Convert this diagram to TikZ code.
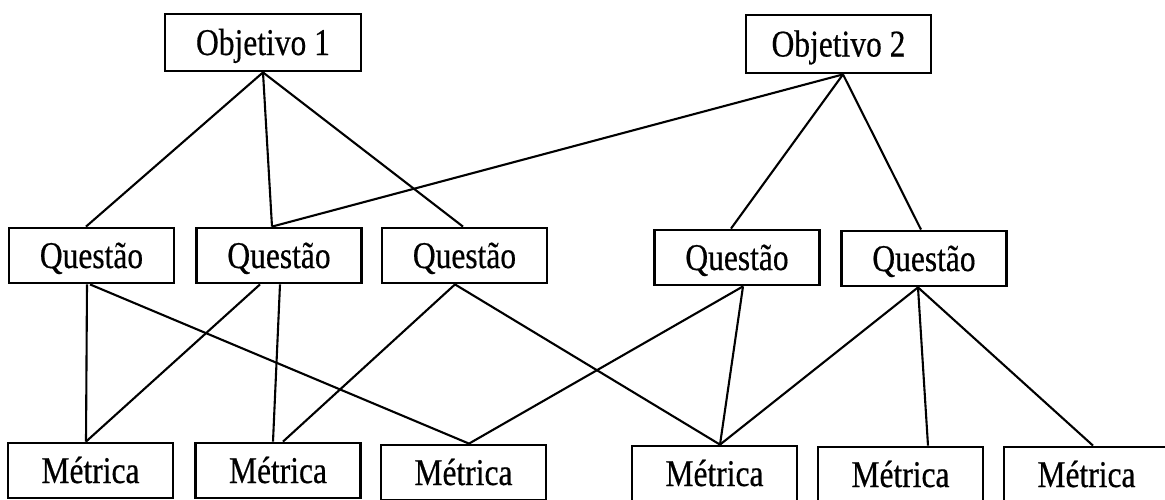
\documentclass[tikz,border=0pt]{standalone}
\usepackage{graphicx}
\usepackage{fontspec}
\setmainfont{Liberation Serif}[FakeBold=0.5]
\usetikzlibrary{calc}

\newcommand{\rotulo}[1]{\scalebox{1}[1.2]{#1}}

\tikzset{
  caixa/.style={draw, line width=2.8pt, minimum width=165pt, minimum height=55pt,
    inner sep=0pt, text height=25pt, text depth=0pt, font=\fontsize{31.5}{36}\selectfont},
  ligacao/.style={line width=2.1pt}
}

\begin{document}
\begin{tikzpicture}[x=1pt,y=-1pt]
	\useasboundingbox (0,0) rectangle (1165,499);
	% objetivos
	\node[caixa, minimum width=196pt, minimum height=57pt] (obj1) at (263,42.5) {\rotulo{Objetivo 1}};
	\node[caixa, minimum width=185pt, minimum height=58pt] (obj2) at (838.5,44) {\rotulo{Objetivo 2}};
	% questoes
	\foreach \nome/\x/\y in {q1/91.5/255.5, q2/279/255.5, q3/464.5/255.5, q4/737/257.5, q5/924/258.5} {
		\node[caixa] (\nome) at (\x,\y) {\rotulo{Questão}};
	}
	% metricas
	\foreach \nome/\x/\y in {m1/90.5/470.5, m2/278/470.5, m3/463.5/472.5, m4/714.5/473.5, m5/900.5/474.5, m6/1086.5/474.5} {
		\node[caixa] (\nome) at (\x,\y) {\rotulo{Métrica}};
	}
	% objetivo -> questao
	\foreach \a/\da/\b/\db in {obj1/0/q1/-5.5, obj1/0/q2/-7, obj1/0/q3/-1.5, obj2/4.5/q2/-7, obj2/4.5/q4/-6, obj2/4.5/q5/-3} {
		\draw[ligacao] ([xshift=\da pt]\a.south) -- ([xshift=\db pt]\b.north);
	}
	% questao -> metrica
	\foreach \a/\da/\b/\db in {q1/-4.5/m1/-4.5, q1/-1.5/m3/5.5, q2/-19/m1/-4.5, q2/1/m2/-5, q3/-9.5/m2/5, q3/-9.5/m4/5.5, q4/6/m3/5.5, q4/6/m4/5.5, q5/-6/m4/5.5, q5/-6/m5/27.5, q5/-6/m6/6.5} {
		\draw[ligacao] ([xshift=\da pt]\a.south) -- ([xshift=\db pt]\b.north);
	}
\end{tikzpicture}
\end{document}
